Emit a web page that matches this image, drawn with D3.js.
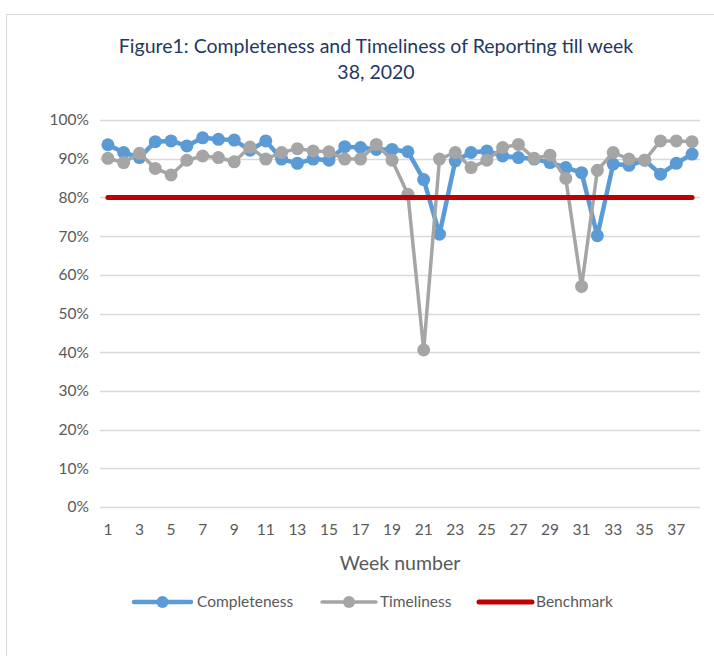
<!DOCTYPE html>
<html>
<head>
<meta charset="utf-8">
<script src="https://cdn.jsdelivr.net/npm/d3@7"></script>
<style>
  body { margin: 0; background: #fff; }
  svg { display: block; font-family: Lato, "Open Sans", sans-serif; }
</style>
</head>
<body>
<svg id="chart" width="714" height="656"></svg>
<script>
// Week numbers (categories)
const weeks = [1, 2, 3, 4, 5, 6, 7, 8, 9, 10, 11, 12, 13, 14, 15, 16, 17, 18, 19,
    20, 21, 22, 23, 24, 25, 26, 27, 28, 29, 30, 31, 32, 33, 34, 35, 36, 37, 38];

// Series values in percent
const completeness = [93.6, 91.6, 90.3, 94.4, 94.6, 93.3, 95.4, 95.0, 94.8, 92.2,
    94.6, 89.9, 88.8, 89.9, 89.6, 93.1, 92.9, 92.4, 92.4, 91.8,
    84.6, 70.5, 89.4, 91.6, 92.0, 90.7, 90.3, 89.9, 89.0, 87.7,
    86.4, 70.1, 88.6, 88.3, 89.6, 86.0, 88.8, 91.2];
const timeliness = [90.1, 89.0, 91.4, 87.5, 85.8, 89.6, 90.7, 90.3, 89.2, 93.0,
    89.9, 91.6, 92.6, 92.0, 91.8, 89.9, 89.9, 93.7, 89.6, 80.8,
    40.6, 89.9, 91.6, 87.7, 89.6, 92.9, 93.7, 90.1, 90.9, 84.9,
    57.0, 87.0, 91.6, 89.9, 89.6, 94.6, 94.6, 94.4];
const benchmark = [80, 80, 80, 80, 80, 80, 80, 80, 80, 80, 80, 80, 80, 80, 80, 80, 80, 80, 80,
    80, 80, 80, 80, 80, 80, 80, 80, 80, 80, 80, 80, 80, 80, 80, 80, 80, 80, 80];

const yTicks = [0, 10, 20, 30, 40, 50, 60, 70, 80, 90, 100];
const xTickLabels = [1, 3, 5, 7, 9, 11, 13, 15, 17, 19, 21, 23, 25, 27, 29, 31, 33, 35, 37];

const svg = d3.select('#chart');

// chart frame (only left and top edges are in view)
svg.append('rect')
    .attr('x', 6.5).attr('y', 14.5)
    .attr('width', 780).attr('height', 700)
    .attr('fill', '#fff')
    .attr('stroke', '#d9d9d9')
    .attr('stroke-width', 1);

// Title
const title = svg.append('text')
    .attr('text-anchor', 'middle')
    .attr('fill', '#1f3864')
    .attr('font-size', 19.5);
title.append('tspan').attr('x', 376).attr('y', 53)
    .text('Figure1: Completeness and Timeliness of Reporting till week');
title.append('tspan').attr('x', 376).attr('y', 79)
    .text('38, 2020');

const x = d3.scaleBand().domain(weeks).range([100, 700]).padding(0);
const cx = d => x(d) + x.bandwidth() / 2;
const y = d3.scaleLinear().domain([0, 100]).range([507, 120]);

// gridlines
svg.append('g')
    .selectAll('line')
    .data(yTicks)
    .join('line')
    .attr('x1', 100).attr('x2', 700)
    .attr('y1', d => Math.round(y(d)) + 0.5)
    .attr('y2', d => Math.round(y(d)) + 0.5)
    .attr('stroke', '#d9d9d9')
    .attr('stroke-width', 1.3);

// y labels
svg.append('g')
    .selectAll('text')
    .data(yTicks)
    .join('text')
    .attr('x', 89)
    .attr('y', d => y(d))
    .attr('dy', '0.35em')
    .attr('text-anchor', 'end')
    .attr('fill', '#595959')
    .attr('font-size', 15.5)
    .text(d => d + '%');

// x labels
svg.append('g')
    .selectAll('text')
    .data(xTickLabels)
    .join('text')
    .attr('x', d => cx(d))
    .attr('y', 530)
    .attr('dy', '0.35em')
    .attr('text-anchor', 'middle')
    .attr('fill', '#595959')
    .attr('font-size', 15.5)
    .text(d => d);

// axis title
svg.append('text')
    .attr('x', 400).attr('y', 563)
    .attr('dy', '0.35em')
    .attr('text-anchor', 'middle')
    .attr('fill', '#595959')
    .attr('font-size', 19.5)
    .text('Week number');

function drawSeries(values, color, width, r) {
    const line = d3.line()
        .x((d, i) => cx(weeks[i]))
        .y(d => y(d));
    const g = svg.append('g');
    g.append('path')
        .datum(values)
        .attr('d', line)
        .attr('fill', 'none')
        .attr('stroke', color)
        .attr('stroke-width', width)
        .attr('stroke-linejoin', 'round')
        .attr('stroke-linecap', 'round');
    if (r) {
        g.selectAll('circle')
            .data(values)
            .join('circle')
            .attr('cx', (d, i) => cx(weeks[i]))
            .attr('cy', d => y(d))
            .attr('r', r)
            .attr('fill', color);
    }
}

drawSeries(completeness, '#5b9bd5', 4.5, 6.5);
drawSeries(timeliness, '#a5a5a5', 3.5, 6.5);
drawSeries(benchmark, '#c00000', 5, 0);

// legend
const legend = [
    { name: 'Completeness', color: '#5b9bd5', w: 4.5, marker: true, x1: 134, x2: 191, tx: 197 },
    { name: 'Timeliness', color: '#a5a5a5', w: 3.5, marker: true, x1: 322, x2: 376, tx: 380 },
    { name: 'Benchmark', color: '#c00000', w: 5, marker: false, x1: 479, x2: 532, tx: 536 }
];
const lg = svg.append('g').selectAll('g').data(legend).join('g');
lg.append('line')
    .attr('x1', d => d.x1).attr('x2', d => d.x2)
    .attr('y1', 602).attr('y2', 602)
    .attr('stroke', d => d.color)
    .attr('stroke-width', d => d.w)
    .attr('stroke-linecap', 'round');
lg.filter(d => d.marker).append('circle')
    .attr('cx', d => (d.x1 + d.x2) / 2)
    .attr('cy', 602)
    .attr('r', 6)
    .attr('fill', d => d.color);
lg.append('text')
    .attr('x', d => d.tx)
    .attr('y', 602)
    .attr('dy', '0.35em')
    .attr('fill', '#595959')
    .attr('font-size', 15.5)
    .text(d => d.name);
</script>
</body>
</html>
